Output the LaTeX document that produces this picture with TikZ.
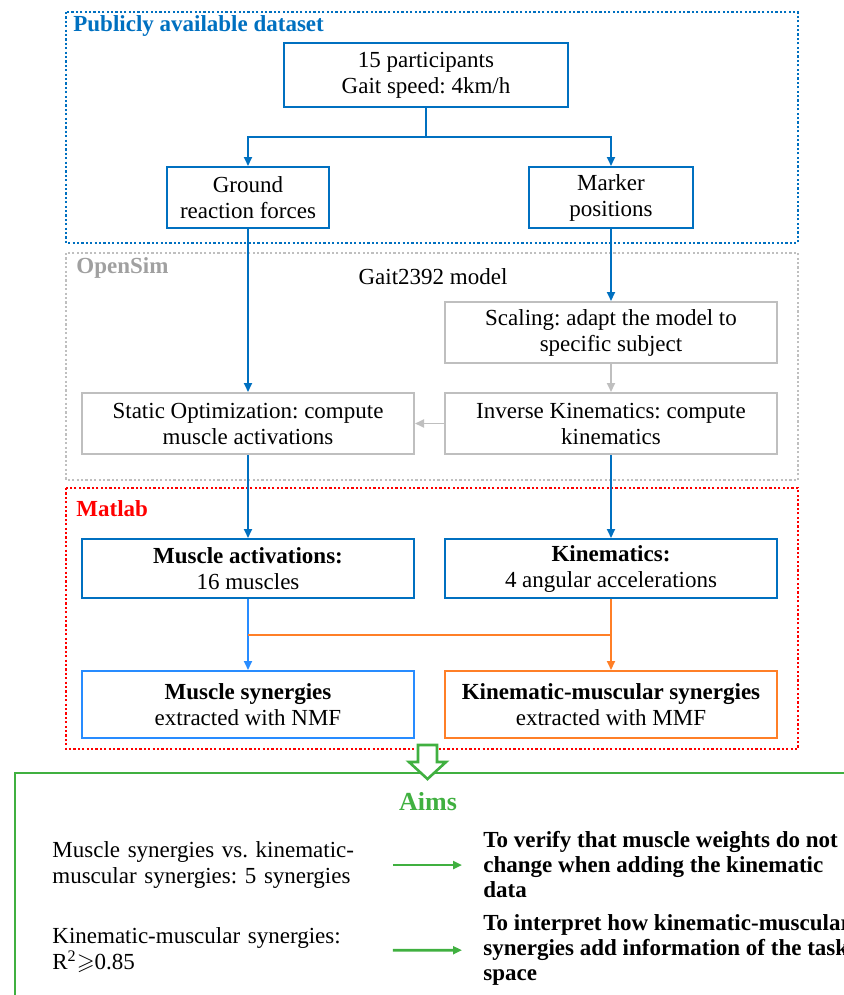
\documentclass[tikz,border=0pt]{standalone}
\usepackage{amssymb}
\usepackage{fontspec}
\setmainfont{Liberation Serif}
\usetikzlibrary{arrows.meta}
\definecolor{dsblue}{RGB}{0,112,192}
\definecolor{synblue}{RGB}{40,140,255}
\definecolor{osgray}{RGB}{191,191,191}
\definecolor{ostext}{RGB}{160,160,160}
\definecolor{mlred}{RGB}{255,0,0}
\definecolor{kmorange}{RGB}{255,127,39}
\definecolor{aimgreen}{RGB}{64,176,64}
\frenchspacing
\begin{document}
\begin{tikzpicture}[x=0.5pt, y=-0.5pt,
    font=\fontsize{11.5}{13}\selectfont,
    >={Triangle[length=4.5pt,width=4pt]},
    box/.style={draw, line width=1pt, align=center, inner sep=0pt,
      minimum width=166pt, minimum height=30.5pt},
    frame/.style={line width=1.2pt, dash pattern=on 1.1pt off 1.1pt},
    flow/.style={->, line width=0.9pt}]
  \useasboundingbox (0,0) rectangle (844,995);
  \clip (0,0) rectangle (844,995);
  % frames
  \draw[frame, dsblue] (66,12) rectangle (798,243);
  \draw[frame, osgray] (66,253) rectangle (798,480);
  \draw[frame, mlred] (66,488) rectangle (798,749);
  \draw[aimgreen, line width=1.3pt] (15,1000) |- (850,773);
  \draw
    (73,26) node[anchor=west, inner sep=0pt, dsblue, font=\fontsize{11.5}{13}\bfseries] (dstitle){Publicly available dataset}
    (76,268) node[anchor=west, inner sep=0pt, ostext, font=\fontsize{11.5}{13}\bfseries] (ostitle){OpenSim}
    (76,509) node[anchor=west, inner sep=0pt, mlred, font=\fontsize{11.5}{13}\bfseries] (mltitle){Matlab}
    (433,277) node (model){Gait2392 model}
    (426,75) node[box, dsblue, text=black, minimum width=142pt, minimum height=32pt] (part){15 participants\\Gait speed: 4km/h}
    (248,197.5) node[box, dsblue, text=black, minimum width=81pt] (grf){Ground\\reaction forces}
    (611,197.5) node[box, dsblue, text=black, minimum width=82pt] (marker){Marker\\positions}
    (611,332.5) node[box, osgray, text=black] (scale){Scaling: adapt the model to\\specific subject}
    (611,423.5) node[box, osgray, text=black] (ik){Inverse Kinematics: compute\\kinematics}
    (248,423.5) node[box, osgray, text=black] (so){Static Optimization: compute\\muscle activations}
    (248,568.5) node[box, dsblue, text=black, minimum height=29.5pt] (act){\textbf{Muscle activations:}\\16 muscles}
    (611,568.5) node[box, dsblue, text=black, minimum height=29.5pt] (kin){\textbf{Kinematics:}\\4 angular accelerations}
    (248,704.5) node[box, synblue, text=black, minimum height=33.5pt] (nmf){\textbf{Muscle synergies}\\extracted with NMF}
    (611,704.5) node[box, kmorange, text=black, minimum height=33.5pt] (mmf){\textbf{Kinematic-muscular synergies}\\extracted with MMF}
    (428,802) node[aimgreen, font=\fontsize{13}{15}\bfseries] (aims){Aims}
    (52,865) node[anchor=west, inner sep=0pt, text width=170pt, align=left] (cmp){Muscle synergies vs. kinematic-\\muscular synergies: 5 synergies}
    (52,950.5) node[anchor=west, inner sep=0pt, text width=170pt, align=left] (rsq){Kinematic-muscular synergies:\\R\textsuperscript{2}$\geqslant$0.85}
    (483,865) node[anchor=west, inner sep=0pt, align=left, font=\fontsize{11.5}{12.5}\bfseries] (verify){To verify that muscle weights do not\\change when adding the kinematic\\data}
    (483,950) node[anchor=west, inner sep=0pt, align=left, font=\fontsize{11.5}{12.5}\bfseries] (interp){To interpret how kinematic-muscular\\synergies add information of the task\\space};
  \coordinate (split) at (426,137);
  \coordinate (mjoin) at (248,635);
  \coordinate (kjoin) at (611,635);
  \begin{scope}[flow]
    \draw[dsblue, -] (part) to (split);
    \draw[dsblue] (split) -| (grf);
    \draw[dsblue] (split) -| (marker);
    \draw[dsblue] (grf) to (so);
    \draw[dsblue] (marker) to (scale);
    \draw[osgray] (scale) to (ik);
    \draw[osgray] (ik) to (so);
    \draw[dsblue] (so) to (act);
    \draw[dsblue] (ik) to (kin);
    \draw[synblue] (act) to (nmf);
    \draw[kmorange] (kin) to (mmf);
    \draw[kmorange, -] (mjoin) to (kjoin);
    \draw[aimgreen, line width=1.4pt, shorten >=10.5pt] (cmp) to (verify);
    \draw[aimgreen, line width=1.4pt, shorten >=10.5pt] (rsq) to (interp);
  \end{scope}
  % hollow arrow into the aims
  \draw[aimgreen, line width=1.3pt, fill=white]
    (418,745) -- (437,745) -- (437,762) -- (446,762) -- (427.5,779)
    -- (409,762) -- (418,762) -- cycle;
\end{tikzpicture}
\end{document}
